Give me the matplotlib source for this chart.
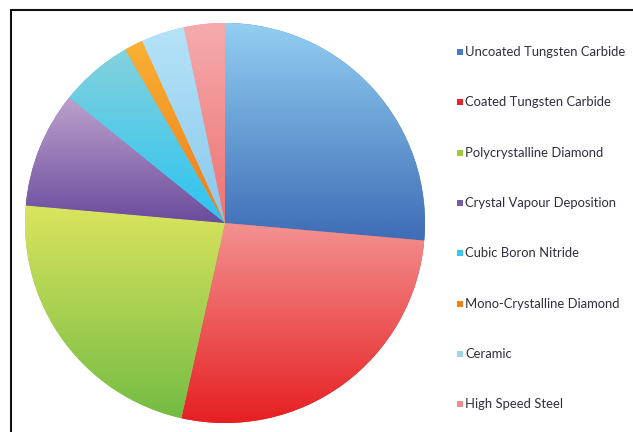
import numpy as np
import matplotlib
matplotlib.use("Agg")
from matplotlib import pyplot as plt
from matplotlib.colors import LinearSegmentedColormap
from matplotlib.patches import Rectangle

labels = ["Uncoated Tungsten Carbide", "Coated Tungsten Carbide", "Polycrystalline Diamond",
          "Crystal Vapour Deposition", "Cubic Boron Nitride", "Mono-Crystalline Diamond",
          "Ceramic", "High Speed Steel"]
shares = [26.4, 27.1, 22.9, 9.4, 5.9, 1.5, 3.5, 3.3]
top_colors = ["#92cff2", "#f39290", "#dbe45e", "#bda2cc", "#84d2dc", "#f9b233", "#b5e3f8", "#f5abad"]
bottom_colors = ["#3e6cb6", "#e61f22", "#74bc44", "#6a4b9d", "#2cc3f1", "#ef7a1b", "#8ac8ec", "#ee7272"]
legend_colors = ["#4a7cc4", "#e8262a", "#9ccb3c", "#7a5aa8", "#3cc4ec", "#f58220", "#9dd6f2", "#f08a8c"]

W, H = 633, 432
fig = plt.figure(figsize=(W / 100, H / 100), dpi=100)

# pie axes: centre (225, 223) px, radius 200 px
cx, cy, r = 225, 223, 200
ax = fig.add_axes([(cx - r) / W, (H - cy - r) / H, 2 * r / W, 2 * r / H])
wedges, _ = ax.pie(shares, startangle=90, counterclock=False, radius=1,
                   colors=legend_colors, wedgeprops=dict(linewidth=0))
ax.set_aspect("equal")
ax.axis("off")

# vertical gradient fill per slice
for w, c0, c1 in zip(wedges, top_colors, bottom_colors):
    path = w.get_path().transformed(w.get_patch_transform())
    ext = path.get_extents()
    cmap = LinearSegmentedColormap.from_list("g", [c1, c0])
    grad = np.linspace(0, 1, 256).reshape(-1, 1)
    im = ax.imshow(grad, cmap=cmap, origin="lower", aspect="auto",
                   extent=[ext.x0, ext.x1, ext.y0, ext.y1], zorder=3,
                   interpolation="bilinear")
    im.set_clip_path(w)
ax.set_xlim(-1, 1)
ax.set_ylim(-1, 1)

# legend
y0, dy = 52, 50.3
for i, (lab, col) in enumerate(zip(labels, legend_colors)):
    y = y0 + i * dy
    fig.patches.append(Rectangle((457 / W, (H - y - 3) / H), 6 / W, 6 / H,
                                 transform=fig.transFigure, facecolor=col,
                                 edgecolor="none"))
    fig.text(465 / W, (H - y) / H, lab, fontsize=9.4, family="Lato",
             color="#2e2e3e", va="center", ha="left")

# outer frame
fig.patches.append(Rectangle((11 / W, -0.1), 1.2, (H - 10) / H + 0.1,
                             transform=fig.transFigure, facecolor="none",
                             edgecolor="#111111", linewidth=1.5))

fig.savefig("out.png", dpi=100)
